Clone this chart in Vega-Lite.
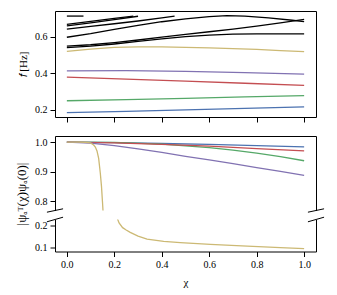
{
  "$schema": "https://vega.github.io/schema/vega-lite/v6.json",
  "padding": {"left": 15, "top": 10, "right": 5, "bottom": 5},
  "background": "white",
  "bounds": "flush",
  "spacing": 8.5,
  "config": {
    "view": {"stroke": null},
    "axis": {
      "grid": false, "domainColor": "black", "tickColor": "black", "labelColor": "black", "titleColor": "black",
      "labelFont": "Liberation Serif", "titleFont": "Liberation Serif", "labelFontSize": 10, "titleFontSize": 11,
      "titleFontWeight": "normal", "tickSize": 5, "labelPadding": 3, "domainWidth": 1, "tickWidth": 1
    }
  },
  "datasets": {
    "freq": [
      {"chi": 0, "f": 0.184, "mode": "m1"}, {"chi": 0.25, "f": 0.191, "mode": "m1"}, {"chi": 0.5, "f": 0.199, "mode": "m1"}, {"chi": 0.75, "f": 0.207, "mode": "m1"}, {"chi": 1, "f": 0.215, "mode": "m1"},
      {"chi": 0, "f": 0.249, "mode": "m2"}, {"chi": 0.25, "f": 0.255, "mode": "m2"}, {"chi": 0.5, "f": 0.262, "mode": "m2"}, {"chi": 0.75, "f": 0.270, "mode": "m2"}, {"chi": 1, "f": 0.277, "mode": "m2"},
      {"chi": 0, "f": 0.378, "mode": "m3"}, {"chi": 0.25, "f": 0.368, "mode": "m3"}, {"chi": 0.5, "f": 0.357, "mode": "m3"}, {"chi": 0.75, "f": 0.345, "mode": "m3"}, {"chi": 1, "f": 0.333, "mode": "m3"},
      {"chi": 0, "f": 0.413, "mode": "m4"}, {"chi": 0.25, "f": 0.414, "mode": "m4"}, {"chi": 0.5, "f": 0.410, "mode": "m4"}, {"chi": 0.75, "f": 0.403, "mode": "m4"}, {"chi": 1, "f": 0.395, "mode": "m4"},
      {"chi": 0, "f": 0.520, "mode": "m5"}, {"chi": 0.1, "f": 0.532, "mode": "m5"}, {"chi": 0.2, "f": 0.541, "mode": "m5"}, {"chi": 0.3, "f": 0.544, "mode": "m5"}, {"chi": 0.4, "f": 0.544, "mode": "m5"}, {"chi": 0.5, "f": 0.542, "mode": "m5"}, {"chi": 0.6, "f": 0.539, "mode": "m5"}, {"chi": 0.7, "f": 0.535, "mode": "m5"}, {"chi": 0.8, "f": 0.530, "mode": "m5"}, {"chi": 0.9, "f": 0.524, "mode": "m5"}, {"chi": 1, "f": 0.518, "mode": "m5"},
      {"chi": 0, "f": 0.713, "mode": "ba"}, {"chi": 0.07, "f": 0.713, "mode": "ba"},
      {"chi": 0, "f": 0.668, "mode": "bb"}, {"chi": 0.1, "f": 0.684, "mode": "bb"}, {"chi": 0.2, "f": 0.700, "mode": "bb"}, {"chi": 0.28, "f": 0.713, "mode": "bb"},
      {"chi": 0, "f": 0.659, "mode": "bc"}, {"chi": 0.1, "f": 0.676, "mode": "bc"}, {"chi": 0.2, "f": 0.694, "mode": "bc"}, {"chi": 0.3, "f": 0.712, "mode": "bc"},
      {"chi": 0, "f": 0.641, "mode": "bd"}, {"chi": 0.1, "f": 0.656, "mode": "bd"}, {"chi": 0.2, "f": 0.671, "mode": "bd"}, {"chi": 0.3, "f": 0.686, "mode": "bd"}, {"chi": 0.4, "f": 0.703, "mode": "bd"}, {"chi": 0.454, "f": 0.713, "mode": "bd"},
      {"chi": 0, "f": 0.597, "mode": "be"}, {"chi": 0.1, "f": 0.617, "mode": "be"}, {"chi": 0.2, "f": 0.640, "mode": "be"}, {"chi": 0.3, "f": 0.662, "mode": "be"}, {"chi": 0.4, "f": 0.682, "mode": "be"}, {"chi": 0.5, "f": 0.698, "mode": "be"}, {"chi": 0.6, "f": 0.710, "mode": "be"}, {"chi": 0.675, "f": 0.715, "mode": "be"}, {"chi": 0.75, "f": 0.713, "mode": "be"}, {"chi": 0.85, "f": 0.703, "mode": "be"}, {"chi": 0.95, "f": 0.690, "mode": "be"}, {"chi": 1, "f": 0.683, "mode": "be"},
      {"chi": 0, "f": 0.548, "mode": "bf"}, {"chi": 0.1, "f": 0.556, "mode": "bf"}, {"chi": 0.2, "f": 0.568, "mode": "bf"}, {"chi": 0.3, "f": 0.582, "mode": "bf"}, {"chi": 0.4, "f": 0.598, "mode": "bf"}, {"chi": 0.5, "f": 0.613, "mode": "bf"}, {"chi": 0.6, "f": 0.627, "mode": "bf"}, {"chi": 0.7, "f": 0.642, "mode": "bf"}, {"chi": 0.8, "f": 0.658, "mode": "bf"}, {"chi": 0.9, "f": 0.676, "mode": "bf"}, {"chi": 1, "f": 0.695, "mode": "bf"},
      {"chi": 0, "f": 0.540, "mode": "bg"}, {"chi": 0.1, "f": 0.548, "mode": "bg"}, {"chi": 0.2, "f": 0.560, "mode": "bg"}, {"chi": 0.3, "f": 0.574, "mode": "bg"}, {"chi": 0.4, "f": 0.588, "mode": "bg"}, {"chi": 0.5, "f": 0.600, "mode": "bg"}, {"chi": 0.6, "f": 0.609, "mode": "bg"}, {"chi": 0.7, "f": 0.614, "mode": "bg"}, {"chi": 0.8, "f": 0.616, "mode": "bg"}, {"chi": 0.9, "f": 0.616, "mode": "bg"}, {"chi": 1, "f": 0.615, "mode": "bg"}
    ],
    "ovl": [
      {"chi": 0, "v": 1.0, "mode": "m1"}, {"chi": 0.2, "v": 0.998, "mode": "m1"}, {"chi": 0.4, "v": 0.995, "mode": "m1"}, {"chi": 0.6, "v": 0.992, "mode": "m1"}, {"chi": 0.8, "v": 0.988, "mode": "m1"}, {"chi": 1, "v": 0.984, "mode": "m1"},
      {"chi": 0, "v": 1.0, "mode": "m2"}, {"chi": 0.2, "v": 0.999, "mode": "m2"}, {"chi": 0.4, "v": 0.993, "mode": "m2"}, {"chi": 0.6, "v": 0.981, "mode": "m2"}, {"chi": 0.7, "v": 0.973, "mode": "m2"}, {"chi": 0.8, "v": 0.963, "mode": "m2"}, {"chi": 0.9, "v": 0.951, "mode": "m2"}, {"chi": 1, "v": 0.937, "mode": "m2"},
      {"chi": 0, "v": 1.0, "mode": "m3"}, {"chi": 0.2, "v": 0.997, "mode": "m3"}, {"chi": 0.4, "v": 0.992, "mode": "m3"}, {"chi": 0.6, "v": 0.986, "mode": "m3"}, {"chi": 0.8, "v": 0.978, "mode": "m3"}, {"chi": 1, "v": 0.970, "mode": "m3"},
      {"chi": 0, "v": 1.0, "mode": "m4"}, {"chi": 0.1, "v": 0.996, "mode": "m4"}, {"chi": 0.2, "v": 0.988, "mode": "m4"}, {"chi": 0.3, "v": 0.977, "mode": "m4"}, {"chi": 0.4, "v": 0.965, "mode": "m4"}, {"chi": 0.5, "v": 0.952, "mode": "m4"}, {"chi": 0.6, "v": 0.940, "mode": "m4"}, {"chi": 0.7, "v": 0.927, "mode": "m4"}, {"chi": 0.8, "v": 0.914, "mode": "m4"}, {"chi": 0.9, "v": 0.901, "mode": "m4"}, {"chi": 1, "v": 0.888, "mode": "m4"},
      {"chi": 0, "v": 1.0, "mode": "m5"}, {"chi": 0.05, "v": 1.0, "mode": "m5"}, {"chi": 0.08, "v": 0.999, "mode": "m5"}, {"chi": 0.1, "v": 0.997, "mode": "m5"}, {"chi": 0.113, "v": 0.99, "mode": "m5"}, {"chi": 0.12, "v": 0.983, "mode": "m5"}, {"chi": 0.127, "v": 0.97, "mode": "m5"}, {"chi": 0.134, "v": 0.945, "mode": "m5"}, {"chi": 0.141, "v": 0.895, "mode": "m5"}, {"chi": 0.146, "v": 0.85, "mode": "m5"}, {"chi": 0.15, "v": 0.80, "mode": "m5"}, {"chi": 0.153, "v": 0.76, "mode": "m5"}, {"chi": 0.16, "v": 0.66, "mode": "m5"}, {"chi": 0.17, "v": 0.53, "mode": "m5"}, {"chi": 0.18, "v": 0.42, "mode": "m5"}, {"chi": 0.19, "v": 0.34, "mode": "m5"}, {"chi": 0.2, "v": 0.285, "mode": "m5"}, {"chi": 0.21, "v": 0.24, "mode": "m5"}, {"chi": 0.22, "v": 0.212, "mode": "m5"}, {"chi": 0.235, "v": 0.19, "mode": "m5"}, {"chi": 0.25, "v": 0.179, "mode": "m5"}, {"chi": 0.267, "v": 0.168, "mode": "m5"}, {"chi": 0.3, "v": 0.151, "mode": "m5"}, {"chi": 0.338, "v": 0.137, "mode": "m5"}, {"chi": 0.408, "v": 0.127, "mode": "m5"}, {"chi": 0.478, "v": 0.121, "mode": "m5"}, {"chi": 0.605, "v": 0.113, "mode": "m5"}, {"chi": 0.76, "v": 0.105, "mode": "m5"}, {"chi": 0.9, "v": 0.098, "mode": "m5"}, {"chi": 1, "v": 0.093, "mode": "m5"}
    ]
  },
  "vconcat": [
    {
      "width": 261, "height": 106,
      "view": {"stroke": "black", "strokeWidth": 1},
      "data": {"name": "freq"},
      "mark": {"type": "line", "strokeWidth": 1.3},
      "encoding": {
        "x": {"field": "chi", "type": "quantitative", "scale": {"domain": [-0.05, 1.05], "nice": false, "zero": false},
              "axis": {"values": [0, 0.2, 0.4, 0.6, 0.8, 1.0], "labels": false, "title": null, "domain": false}},
        "y": {"field": "f", "type": "quantitative", "scale": {"domain": [0.16, 0.7408], "nice": false, "zero": false},
              "axis": {"values": [0.2, 0.4, 0.6], "format": ".1f", "title": "𝑓 [Hz]", "titlePadding": 6, "domain": false}},
        "color": {"field": "mode", "type": "nominal", "legend": null,
                  "scale": {"domain": ["m1", "m2", "m3", "m4", "m5", "ba", "bb", "bc", "bd", "be", "bf", "bg"],
                            "range": ["#4C72B0", "#55A868", "#C44E52", "#8172B2", "#CCB974", "black", "black", "black", "black", "black", "black", "black"]}}
      }
    },
    {
      "width": 261, "height": 2,
      "data": {"values": []},
      "mark": "point"
    },
    {
      "width": 261, "height": 74.5,
      "layer": [
        {
          "data": {"name": "ovl"},
          "mark": {"type": "line", "strokeWidth": 1.3, "clip": true},
          "encoding": {
            "x": {"field": "chi", "type": "quantitative", "scale": {"domain": [-0.05, 1.05], "nice": false, "zero": false},
                  "axis": {"orient": "top", "labels": false, "ticks": false, "title": null, "domain": true}},
            "y": {"field": "v", "type": "quantitative", "scale": {"domain": [0.7695, 1.0203], "nice": false, "zero": false},
                  "axis": {"values": [0.8, 0.9, 1.0], "format": ".1f", "title": "|ψₐᵀ(χ)ψₐ(0)|", "titleFontSize": 13, "titleY": 57.5, "titlePadding": 6}},
            "color": {"field": "mode", "type": "nominal", "legend": null,
                      "scale": {"domain": ["m1", "m2", "m3", "m4", "m5"], "range": ["#4C72B0", "#55A868", "#C44E52", "#8172B2", "#CCB974"]}}
          }
        },
        {
          "data": {"values": [{"x": -0.084, "x2": -0.016, "y": 0.7638, "y2": 0.7752}, {"x": 1.016, "x2": 1.084, "y": 0.7638, "y2": 0.7752}]},
          "mark": {"type": "rule", "color": "black", "strokeWidth": 1},
          "encoding": {
            "x": {"field": "x", "type": "quantitative"},
            "x2": {"field": "x2"},
            "y": {"field": "y", "type": "quantitative", "scale": {"domain": [0.7695, 1.0203], "nice": false, "zero": false},
                  "axis": {"orient": "right", "labels": false, "ticks": false, "title": null, "domain": true}},
            "y2": {"field": "y2"}
          }
        }
      ],
      "resolve": {"scale": {"y": "independent"}}
    },
    {
      "width": 261, "height": 32,
      "layer": [
        {
          "data": {"name": "ovl"},
          "mark": {"type": "line", "strokeWidth": 1.3, "clip": true},
          "encoding": {
            "x": {"field": "chi", "type": "quantitative", "scale": {"domain": [-0.05, 1.05], "nice": false, "zero": false},
                  "axis": {"values": [0, 0.2, 0.4, 0.6, 0.8, 1.0], "format": ".1f", "title": "χ", "titlePadding": 7}},
            "y": {"field": "v", "type": "quantitative", "scale": {"domain": [0.08, 0.2276], "nice": false, "zero": false},
                  "axis": {"values": [0.1, 0.2], "format": ".1f", "title": null}},
            "color": {"field": "mode", "type": "nominal", "legend": null,
                      "scale": {"domain": ["m1", "m2", "m3", "m4", "m5"], "range": ["#4C72B0", "#55A868", "#C44E52", "#8172B2", "#CCB974"]}}
          }
        },
        {
          "data": {"values": [{"x": -0.084, "x2": -0.016, "y": 0.217, "y2": 0.2382}, {"x": 1.016, "x2": 1.084, "y": 0.217, "y2": 0.2382}]},
          "mark": {"type": "rule", "color": "black", "strokeWidth": 1},
          "encoding": {
            "x": {"field": "x", "type": "quantitative"},
            "x2": {"field": "x2"},
            "y": {"field": "y", "type": "quantitative", "scale": {"domain": [0.08, 0.2276], "nice": false, "zero": false},
                  "axis": {"orient": "right", "labels": false, "ticks": false, "title": null, "domain": true}},
            "y2": {"field": "y2"}
          }
        }
      ],
      "resolve": {"scale": {"y": "independent"}}
    }
  ]
}
